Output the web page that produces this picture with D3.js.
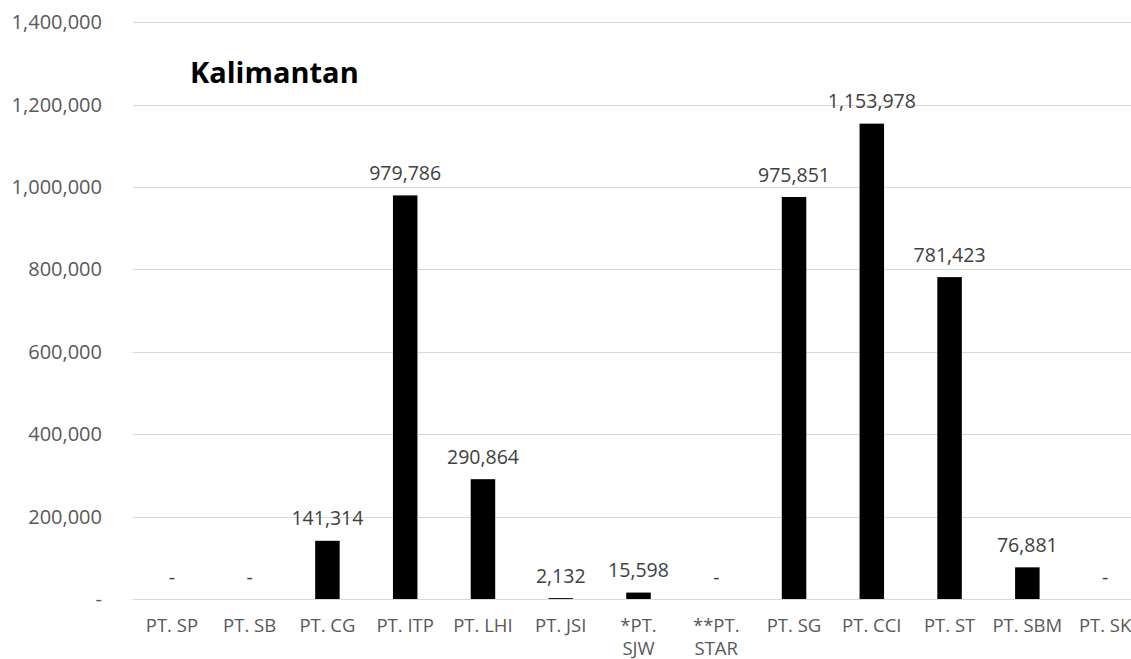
<!DOCTYPE html>
<html>
<head>
<meta charset="utf-8">
<script src="https://cdn.jsdelivr.net/npm/d3@7"></script>
<style>
  html, body { margin: 0; padding: 0; background: #ffffff; }
  svg { display: block; }
</style>
</head>
<body>
<div id="chart"></div>
<script>
// Companies (a "\n" marks where a label wraps onto a second line)
const categories = [
  "PT. SP", "PT. SB", "PT. CG", "PT. ITP", "PT. LHI", "PT. JSI",
  "*PT.\nSJW", "**PT.\nSTAR", "PT. SG", "PT. CCI", "PT. ST", "PT. SBM", "PT. SK"
];
const values = [
  0, 0, 141314, 979786, 290864, 2132,
  15598, 0, 975851, 1153978, 781423, 76881, 0
];
const yTicks = [0, 200000, 400000, 600000, 800000, 1000000, 1200000, 1400000];
const chartTitle = "Kalimantan";

const width = 1131, height = 659;
const plot = { left: 133, right: 1144, top: 22.3, bottom: 599 };

const fmt = v => v === 0 ? "-" : d3.format(",")(v);

const svg = d3.select("#chart").append("svg")
  .attr("width", width)
  .attr("height", height)
  .style("font-family", "'Open Sans', sans-serif");

const x = d3.scaleBand()
  .domain(categories)
  .range([plot.left, plot.right])
  .paddingInner(0.685)
  .paddingOuter(0.3425);

const y = d3.scaleLinear()
  .domain([0, 1400000])
  .range([plot.bottom, plot.top]);

// Horizontal gridlines
svg.append("g")
  .selectAll("line")
  .data(yTicks)
  .join("line")
  .attr("x1", plot.left)
  .attr("x2", plot.right)
  .attr("y1", d => Math.round(y(d)) + 0.5)
  .attr("y2", d => Math.round(y(d)) + 0.5)
  .attr("stroke", "#d9d9d9")
  .attr("stroke-width", 1);

// Y axis labels
const yAxis = d3.axisLeft(y).tickValues(yTicks).tickFormat(fmt).tickSize(0).tickPadding(0);
const yg = svg.append("g")
  .attr("transform", `translate(102,0)`)
  .call(yAxis);
yg.select(".domain").remove();
yg.selectAll("text")
  .attr("fill", "#595959")
  .style("font-size", "20px")
  .style("font-family", "'Open Sans', sans-serif");

// Bars
svg.append("g")
  .selectAll("rect")
  .data(values)
  .join("rect")
  .attr("x", (d, i) => x(categories[i]))
  .attr("width", x.bandwidth())
  .attr("y", d => y(d))
  .attr("height", d => y(0) - y(d))
  .attr("fill", "#000000");

// Value labels
svg.append("g")
  .selectAll("text")
  .data(values)
  .join("text")
  .attr("x", (d, i) => x(categories[i]) + x.bandwidth() / 2)
  .attr("y", d => y(d) - 15.5)
  .attr("text-anchor", "middle")
  .attr("fill", "#404040")
  .style("font-size", "19.5px")
  .text(fmt);

// Category axis labels
const xg = svg.append("g");
categories.forEach(c => {
  const lines = c.split("\n");
  const t = xg.append("text")
    .attr("x", x(c) + x.bandwidth() / 2)
    .attr("y", 632)
    .attr("text-anchor", "middle")
    .attr("fill", "#595959")
    .style("font-size", "18.5px");
  lines.forEach((ln, k) => {
    t.append("tspan")
      .attr("x", x(c) + x.bandwidth() / 2)
      .attr("dy", k === 0 ? 0 : 23)
      .text(ln);
  });
});

// Title
svg.append("text")
  .attr("x", 190)
  .attr("y", 83.3)
  .attr("fill", "#000000")
  .style("font-size", "29px")
  .style("font-weight", "bold")
  .text(chartTitle);
</script>
</body>
</html>
